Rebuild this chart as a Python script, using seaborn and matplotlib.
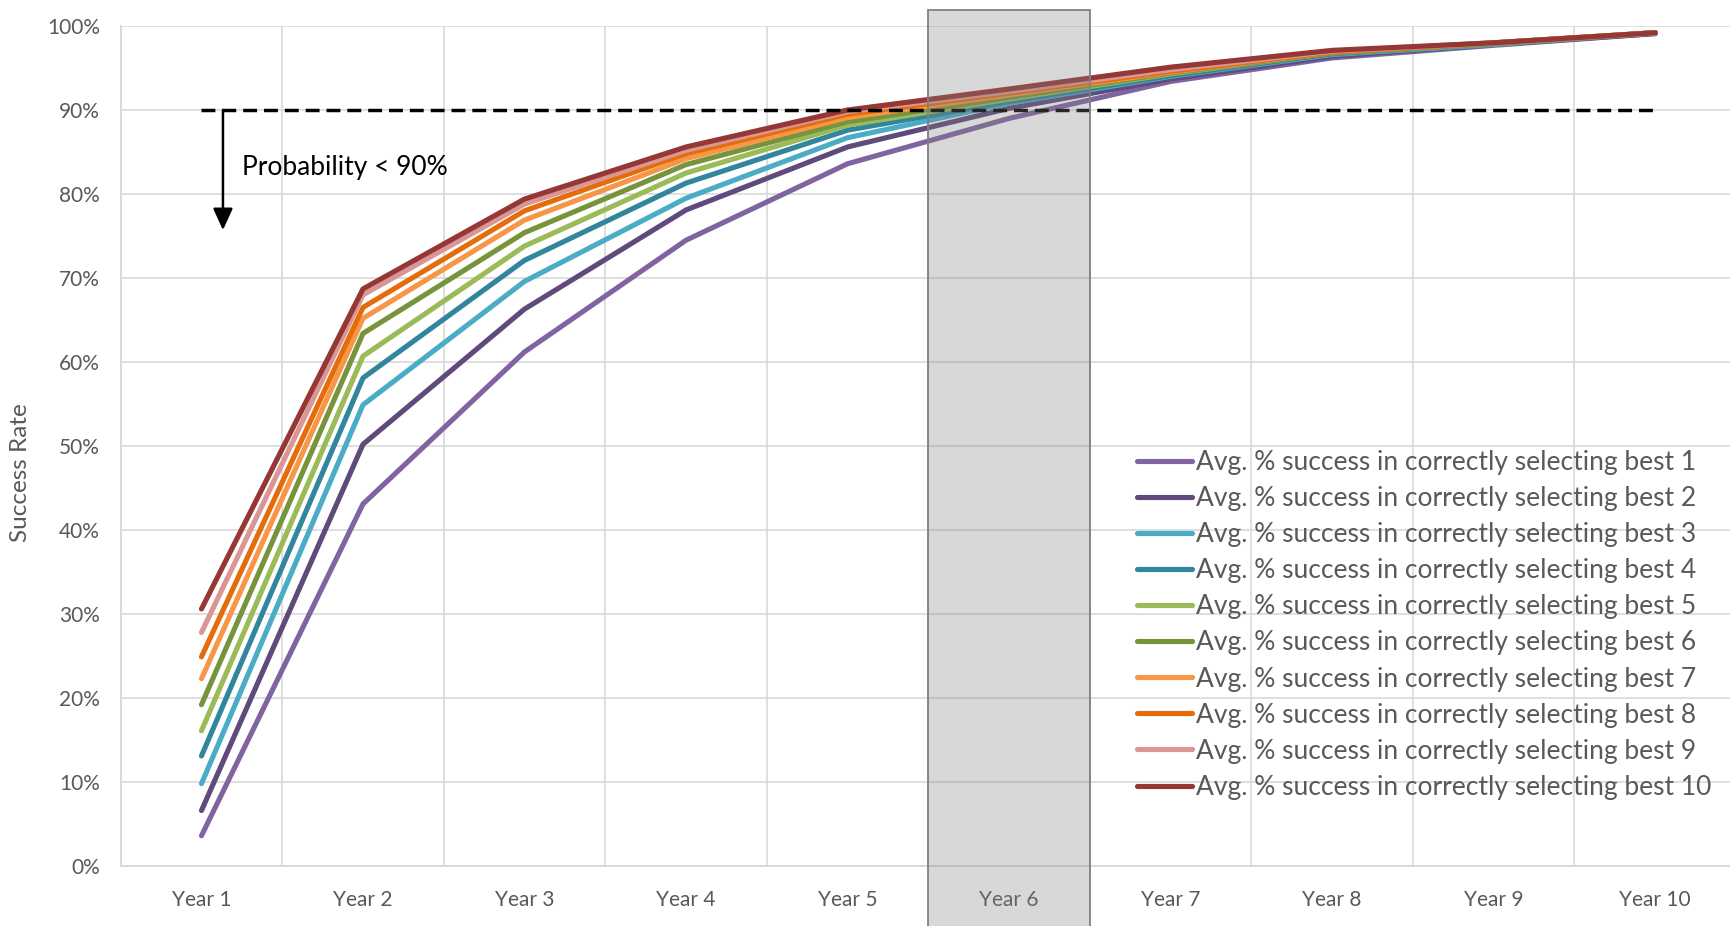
import numpy as np
import pandas as pd
import matplotlib
matplotlib.use("Agg")
import matplotlib.pyplot as plt
from matplotlib.lines import Line2D
from matplotlib.patches import Rectangle
import seaborn as sns

# ---- data (success rate, %) ----
years = ["Year 1", "Year 2", "Year 3", "Year 4", "Year 5",
         "Year 6", "Year 7", "Year 8", "Year 9", "Year 10"]
best1 = [3.6, 43.1, 61.2, 74.5, 83.6, 89.0, 93.4, 96.2, 97.7, 99.1]
best2 = [6.6, 50.2, 66.3, 78.1, 85.6, 90.2, 93.7, 96.4, 97.8, 99.1]
best3 = [9.8, 54.9, 69.6, 79.5, 86.7, 90.8, 94.0, 96.6, 97.8, 99.2]
best4 = [13.1, 58.1, 72.1, 81.3, 87.6, 91.0, 94.1, 96.7, 97.9, 99.2]
best5 = [16.1, 60.7, 73.8, 82.5, 88.2, 91.3, 94.3, 96.8, 97.9, 99.2]
best6 = [19.2, 63.4, 75.4, 83.5, 88.6, 91.5, 94.4, 96.8, 97.9, 99.2]
best7 = [22.3, 65.2, 76.9, 84.2, 89.1, 91.8, 94.5, 96.9, 98.0, 99.2]
best8 = [24.9, 66.5, 78.0, 84.8, 89.5, 92.0, 94.6, 96.9, 98.0, 99.2]
best9 = [27.8, 68.0, 78.8, 85.2, 89.8, 92.2, 94.8, 97.0, 98.0, 99.2]
best10 = [30.6, 68.7, 79.4, 85.6, 90.0, 92.5, 95.1, 97.1, 98.0, 99.2]
series = [best1, best2, best3, best4, best5, best6, best7, best8, best9, best10]
labels = [f"Avg. % success in correctly selecting best {i}" for i in range(1, 11)]
colors = ["#8064A2", "#604A7B", "#4BACC6", "#31859C", "#9BBB59",
          "#77933C", "#F79646", "#E46C0A", "#D99694", "#953735"]
threshold = 90
highlight_year = "Year 6"

df = pd.DataFrame({
    "year": years * len(series),
    "rate": np.concatenate(series),
    "series": np.repeat(labels, len(years)),
})

sns.set_theme(style="white")
plt.rcParams["font.family"] = ["Lato", "DejaVu Sans"]

fig = plt.figure(figsize=(17.31, 9.26), dpi=100)
ax = fig.add_axes([120.7 / 1731, 60 / 926, (1736 - 120.7) / 1731, 840 / 926])

grid_c = "#D9D9D9"
text_c = "#595959"

sns.lineplot(data=df, x="year", y="rate", hue="series", hue_order=labels,
             palette=colors, sort=False, legend=False, ax=ax,
             linewidth=3.7, solid_capstyle="round", solid_joinstyle="round",
             zorder=3)

ax.set_xlim(-0.5, len(years) - 0.5)
ax.set_ylim(0, 100)
ax.set_yticks(np.arange(0, 101, 10))
ax.set_yticklabels([f"{v}%" for v in range(0, 101, 10)])
ax.set_xticks(range(len(years)))
ax.set_xticklabels(years)
ax.set_xticks(np.arange(-0.5, len(years)), minor=True)
ax.grid(False)
ax.grid(axis="y", which="major", color=grid_c, linewidth=1.2, zorder=0)
ax.grid(axis="x", which="minor", color=grid_c, linewidth=1.2, zorder=0)
ax.set_axisbelow(True)
ax.tick_params(axis="both", which="both", length=0, labelsize=15, labelcolor=text_c)
ax.tick_params(axis="y", pad=15)
ax.tick_params(axis="x", pad=17)
ax.set_xlabel("")
ax.set_ylabel("")
for side in ["top", "right"]:
    ax.spines[side].set_visible(False)
for side in ["left", "bottom"]:
    ax.spines[side].set_color(grid_c)
    ax.spines[side].set_linewidth(1.4)

# 90% threshold
x_idx = np.arange(len(years))
ax.plot([x_idx[0], x_idx[-1]], [threshold, threshold], color="black",
        linewidth=2.5, linestyle=(0, (4, 2)), dash_capstyle="butt", zorder=5)

# arrow and note below the threshold
ax.annotate("", xy=(0.133, 75.7), xytext=(0.133, threshold),
            arrowprops=dict(arrowstyle="-|>,head_length=1.1,head_width=0.5",
                            color="black", lw=1.8, shrinkA=0, shrinkB=0),
            zorder=6)
ax.text(0.25, 83.1, "Probability < 90%", fontsize=19, color="black",
        ha="left", va="center", zorder=6)

# highlighted year band
hx = years.index(highlight_year)
band = Rectangle((hx - 0.5, -10), 1.0, 111.9, facecolor="#808080", alpha=0.3,
                 edgecolor="none", clip_on=False, zorder=10)
ax.add_patch(band)
band_edge = Rectangle((hx - 0.5, -10), 1.0, 111.9, facecolor="none",
                      edgecolor="#808080", linewidth=1.3, clip_on=False, zorder=11)
ax.add_patch(band_edge)

# legend
handles = [Line2D([], [], color=c, linewidth=3.7, solid_capstyle="round") for c in colors]
leg = fig.legend(handles, labels, loc="upper left",
                 bbox_to_anchor=(1137 / 1731, 1 - 450 / 926),
                 frameon=False, fontsize=19, labelcolor=text_c,
                 handlelength=2.1, handletextpad=0.15, labelspacing=0.42,
                 borderpad=0, borderaxespad=0)

fig.text(21 / 1731, 1 - 473 / 926, "Success Rate", rotation=90, fontsize=17.5,
         color=text_c, ha="center", va="center")

fig.savefig("out.png", dpi=100)
